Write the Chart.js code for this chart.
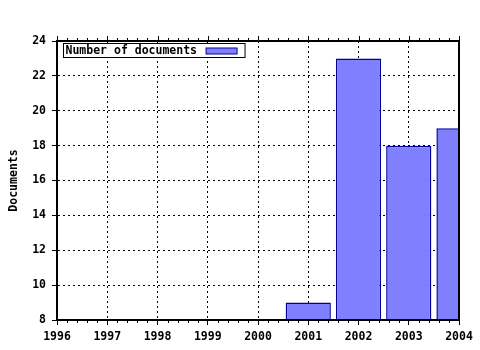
<!DOCTYPE html>
<html>
<head>
<meta charset="utf-8">
<script src="https://cdn.jsdelivr.net/npm/chart.js@4"></script>
<style>
  html, body { margin: 0; padding: 0; background: #fff; }
  #wrap { width: 480px; height: 350px; }
</style>
</head>
<body>
<div id="wrap"><canvas id="docChart" width="480" height="350"></canvas></div>
<script>
// data
const years = [2001, 2002, 2003, 2004];
const documents = [9, 23, 18, 19];
const yearRange = [1996, 2004];
const docRange = [8, 24];
const seriesLabel = 'Number of documents';

const monoFont = '"DejaVu Sans Mono", "Liberation Mono", monospace';

// frame, minor ticks on top/bottom, boxed legend
const framePlugin = {
    id: 'frame',
    afterDraw(chart) {
        const ctx = chart.ctx;
        const a = chart.chartArea;
        const x = chart.scales.x;
        ctx.save();
        ctx.strokeStyle = '#000';
        ctx.lineWidth = 1;
        ctx.setLineDash([]);
        ctx.beginPath();
        // major ticks on top edge
        for (let v = yearRange[0]; v <= yearRange[1]; v++) {
            const px = Math.round(x.getPixelForValue(v)) + 0.5;
            ctx.moveTo(px, a.top);
            ctx.lineTo(px, a.top - 5);
            if (v < yearRange[1]) {
                for (let m = 1; m < 5; m++) {
                    const mx = Math.round(x.getPixelForValue(v + m / 5)) + 0.5;
                    ctx.moveTo(mx, a.top);
                    ctx.lineTo(mx, a.top - 3);
                    ctx.moveTo(mx, a.bottom);
                    ctx.lineTo(mx, a.bottom + 3);
                }
            }
        }
        ctx.stroke();
        ctx.lineWidth = 2;
        ctx.strokeRect(a.left, a.top, a.right - a.left, a.bottom - a.top);

        // legend box
        ctx.font = 'bold 11.5px ' + monoFont;
        const tw = ctx.measureText(seriesLabel).width;
        const lx = a.left + 6.5, ly = a.top + 2.5;
        const lw = tw + 50, lh = 14;
        ctx.fillStyle = '#fff';
        ctx.fillRect(lx, ly, lw, lh);
        ctx.lineWidth = 1;
        ctx.strokeStyle = '#000';
        ctx.strokeRect(lx, ly, lw, lh);
        ctx.fillStyle = '#000';
        ctx.textBaseline = 'middle';
        ctx.fillText(seriesLabel, lx + 2, ly + lh / 2 + 1);
        ctx.fillStyle = '#8080ff';
        ctx.fillRect(lx + tw + 11, ly + 4.5, 31, 6);
        ctx.strokeStyle = '#000099';
        ctx.strokeRect(lx + tw + 11, ly + 4.5, 31, 6);
        ctx.restore();
    }
};

new Chart(document.getElementById('docChart'), {
    type: 'bar',
    data: {
        datasets: [{
            label: seriesLabel,
            data: years.map((yr, i) => ({ x: yr, y: documents[i] })),
            backgroundColor: '#8080ff',
            borderColor: '#000099',
            borderWidth: 1.5,
            borderSkipped: false,
            barPercentage: 0.9,
            categoryPercentage: 1,
            clip: 0
        }]
    },
    options: {
        responsive: false,
        animation: false,
        events: [],
        layout: { padding: { top: 41, right: 21, left: 0, bottom: 0 } },
        plugins: {
            legend: { display: false },
            tooltip: { enabled: false }
        },
        scales: {
            x: {
                type: 'linear',
                offset: false,
                min: yearRange[0],
                max: yearRange[1],
                afterFit: s => { s.height = 30; },
                ticks: {
                    stepSize: 1,
                    padding: 5,
                    color: '#000',
                    maxRotation: 0,
                    autoSkip: false,
                    font: { family: monoFont, size: 11.5, weight: 'bold' },
                    callback: v => String(v)
                },
                grid: { offset: false, color: '#000', tickColor: '#000', tickLength: 5, lineWidth: 1 },
                border: { display: true, color: '#000', width: 2, dash: [2, 3] }
            },
            y: {
                min: docRange[0],
                max: docRange[1],
                afterFit: s => { s.width = 57; },
                ticks: {
                    stepSize: 2,
                    padding: 6,
                    color: '#000',
                    font: { family: monoFont, size: 11.5, weight: 'bold' }
                },
                grid: { color: '#000', tickColor: '#000', tickLength: 5, lineWidth: 1 },
                border: { display: true, color: '#000', width: 2, dash: [2, 3] },
                title: {
                    display: true,
                    text: 'Documents',
                    color: '#000',
                    padding: { top: 7, bottom: 0 },
                    font: { family: monoFont, size: 11.5, weight: 'bold' }
                }
            }
        }
    },
    plugins: [framePlugin]
});
</script>
</body>
</html>
